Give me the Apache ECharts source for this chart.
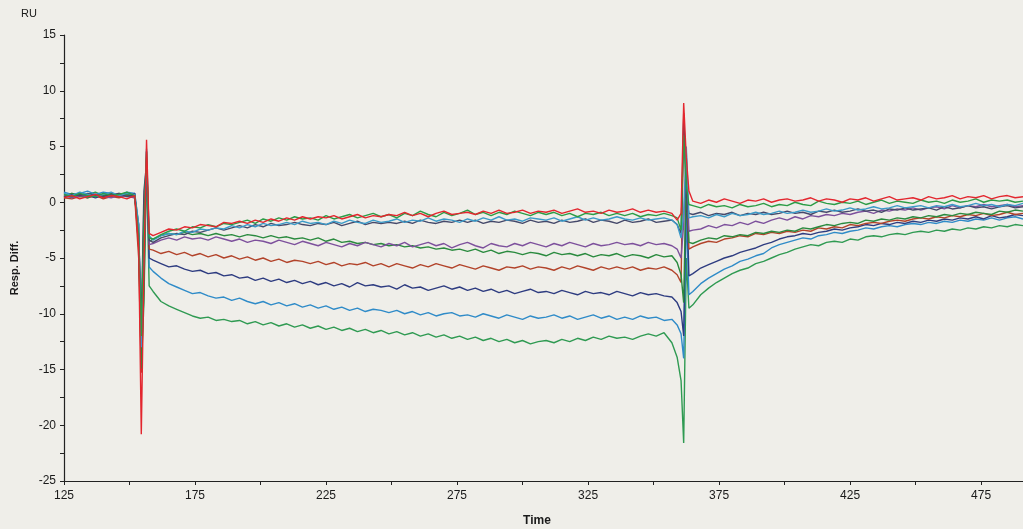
<!DOCTYPE html>
<html>
<head>
<meta charset="utf-8">
<script src="https://cdn.jsdelivr.net/npm/echarts@6/dist/echarts.min.js"></script>
<style>
  html, body { margin: 0; padding: 0; background: #efeee9; }
  #chart { width: 1023px; height: 529px; }
</style>
</head>
<body>
<div id="chart"></div>
<script>
// Sample times (s): baseline, injection spike, association, end-of-injection spike, dissociation
const time = [
  125,128,131,134,137,140,143,146,149,152,
  153.5,154.5,155.5,156.5,157.5,
  159,162,165,168,171,174,177,180,183,186,
  189,192,195,198,201,204,207,210,213,216,
  219,222,225,228,231,234,237,240,243,246,
  249,252,255,258,261,264,267,270,273,276,
  279,282,285,288,291,294,297,300,303,306,
  309,312,315,318,321,324,327,330,333,336,
  339,342,345,348,351,354,357,
  359,360.5,361.5,362.5,363.5,
  365,368,371,374,377,380,383,386,389,392,
  395,398,401,404,407,410,413,416,419,422,
  425,428,431,434,437,440,443,446,449,452,
  455,458,461,464,467,470,473,476,479,482,
  485,488,491
];

// Response difference (RU) for each curve, same order as `time`
const curveGreenLow = [
  0.6,0.8,0.5,0.7,0.9,0.6,0.5,0.8,0.7,0.5,
  -3,-15,-9,3.2,-7.5,
  -8.0,-8.9,-9.3,-9.6,-9.9,-10.2,-10.4,-10.3,-10.6,-10.5,
  -10.7,-10.6,-10.9,-10.7,-11.0,-10.8,-11.1,-10.9,-11.2,-11.0,
  -11.3,-11.1,-11.4,-11.2,-11.5,-11.3,-11.6,-11.4,-11.7,-11.5,
  -11.8,-11.6,-11.9,-11.7,-12.0,-11.8,-12.1,-11.9,-12.2,-12.0,
  -12.3,-12.1,-12.4,-12.2,-12.5,-12.3,-12.6,-12.4,-12.7,-12.5,
  -12.4,-12.6,-12.3,-12.5,-12.2,-12.4,-12.1,-12.3,-12.0,-12.2,
  -12.1,-12.3,-12.0,-11.8,-12.0,-11.7,-12.6,
  -13.9,-16.0,-21.6,-5.0,-9.5,
  -9.2,-8.3,-7.7,-7.2,-6.8,-6.4,-6.1,-5.9,-5.5,-5.3,
  -5.0,-4.7,-4.5,-4.2,-4.0,-3.8,-3.9,-3.6,-3.5,-3.6,
  -3.3,-3.4,-3.1,-3.0,-3.1,-2.9,-2.8,-2.9,-2.7,-2.6,
  -2.7,-2.5,-2.6,-2.4,-2.5,-2.3,-2.4,-2.2,-2.3,-2.1,
  -2.2,-2.0,-2.1
];
const curveBlue = [
  0.9,0.7,0.8,1.0,0.7,0.9,0.8,0.6,0.9,0.8,
  -2,-13,-6,3.8,-5.8,
  -6.2,-6.8,-7.3,-7.6,-7.9,-8.2,-8.1,-8.4,-8.6,-8.5,
  -8.8,-8.6,-8.9,-9.1,-8.9,-9.2,-9.0,-9.3,-9.1,-9.4,
  -9.2,-9.5,-9.3,-9.6,-9.4,-9.7,-9.5,-9.8,-9.6,-9.7,
  -9.9,-9.7,-10.0,-9.8,-10.1,-9.9,-10.2,-10.0,-9.9,-10.2,
  -10.1,-10.3,-10.0,-10.2,-10.4,-10.1,-10.3,-10.5,-10.2,-10.4,
  -10.3,-10.1,-10.4,-10.2,-10.5,-10.3,-10.1,-10.4,-10.2,-10.5,
  -10.3,-10.5,-10.2,-10.4,-10.3,-10.6,-10.5,
  -11.0,-11.8,-14.0,-1.0,-8.3,
  -8.0,-7.3,-6.8,-6.4,-6.0,-5.7,-5.3,-5.1,-4.8,-4.6,
  -4.1,-3.8,-3.6,-3.4,-3.2,-3.3,-3.0,-2.9,-2.7,-2.8,
  -2.6,-2.5,-2.3,-2.4,-2.2,-2.1,-2.2,-2.0,-1.9,-2.0,
  -1.8,-1.9,-1.7,-1.8,-1.6,-1.7,-1.5,-1.6,-1.4,-1.6,
  -1.4,-1.3,-1.5
];
const curveNavy = [
  0.6,0.5,0.7,0.6,0.4,0.6,0.7,0.5,0.6,0.8,
  -4,-12,-2,4.6,-5.0,
  -5.2,-5.5,-5.8,-5.7,-6.0,-6.2,-6.1,-6.4,-6.3,-6.6,
  -6.5,-6.8,-6.7,-7.0,-6.8,-7.1,-6.9,-7.2,-7.0,-7.3,
  -7.1,-7.4,-7.2,-7.5,-7.3,-7.6,-7.2,-7.5,-7.4,-7.6,
  -7.5,-7.8,-7.4,-7.7,-7.6,-7.9,-7.7,-7.5,-7.8,-7.6,
  -7.9,-7.7,-8.0,-7.8,-8.1,-7.9,-8.2,-8.0,-7.8,-8.1,
  -8.0,-8.2,-7.9,-8.1,-8.3,-8.0,-8.2,-8.1,-8.3,-8.0,
  -8.2,-8.4,-8.1,-8.3,-8.2,-8.4,-8.5,
  -9.0,-9.8,-12.0,2.0,-6.6,
  -6.4,-5.9,-5.6,-5.3,-5.0,-4.8,-4.5,-4.3,-4.1,-3.8,
  -3.6,-3.3,-3.1,-3.0,-2.8,-2.9,-2.7,-2.6,-2.4,-2.5,
  -2.3,-2.2,-2.0,-2.1,-1.9,-2.0,-1.8,-1.9,-1.7,-1.8,
  -1.6,-1.7,-1.5,-1.6,-1.4,-1.5,-1.3,-1.5,-1.2,-1.4,
  -1.3,-1.1,-1.2
];
const curveBrown = [
  0.4,0.3,0.5,0.4,0.6,0.3,0.5,0.4,0.6,0.4,
  -5,-15.3,-4,4.0,-4.2,
  -4.3,-4.6,-4.4,-4.7,-4.5,-4.8,-4.6,-4.9,-4.7,-5.0,
  -4.8,-5.1,-4.9,-5.2,-5.0,-5.3,-5.1,-5.4,-5.2,-5.3,
  -5.5,-5.3,-5.6,-5.4,-5.7,-5.5,-5.6,-5.4,-5.7,-5.5,
  -5.8,-5.5,-5.7,-5.9,-5.6,-5.8,-5.5,-5.7,-5.9,-5.6,
  -5.8,-6.0,-5.7,-5.9,-6.1,-5.8,-5.9,-5.7,-6.0,-5.8,
  -5.9,-6.1,-5.8,-6.0,-5.7,-5.9,-6.1,-5.8,-6.0,-5.8,
  -6.0,-5.8,-6.1,-5.9,-6.0,-5.8,-6.1,
  -6.5,-7.2,8.0,2.0,-4.2,
  -4.0,-3.7,-3.5,-3.6,-3.3,-3.2,-3.0,-3.1,-2.8,-2.9,
  -2.7,-2.8,-2.6,-2.7,-2.5,-2.6,-2.3,-2.4,-2.2,-2.3,
  -2.0,-2.1,-1.9,-1.8,-1.9,-1.7,-1.6,-1.7,-1.5,-1.4,
  -1.5,-1.3,-1.4,-1.2,-1.3,-1.1,-1.2,-1.0,-1.2,-1.1,
  -0.9,-1.1,-1.0
];
const curveGreenMid = [
  0.5,0.8,0.6,0.4,0.7,0.6,0.8,0.5,0.7,0.6,
  -3,-14.9,-8,3.8,-3.5,
  -3.3,-3.0,-2.8,-2.9,-2.7,-2.9,-2.8,-3.0,-2.8,-3.0,
  -2.9,-3.1,-2.9,-3.0,-3.2,-3.0,-3.2,-3.1,-3.3,-3.2,
  -3.4,-3.2,-3.5,-3.3,-3.6,-3.5,-3.7,-3.6,-3.8,-3.7,
  -3.9,-3.8,-4.0,-3.9,-4.1,-4.0,-4.2,-4.1,-4.3,-4.2,
  -4.4,-4.2,-4.5,-4.3,-4.6,-4.4,-4.5,-4.7,-4.5,-4.6,
  -4.8,-4.5,-4.7,-4.6,-4.8,-4.6,-4.9,-4.7,-4.8,-4.6,
  -4.9,-4.7,-4.8,-5.0,-4.7,-4.9,-4.8,
  -5.4,-6.5,-9.0,3.0,-3.6,
  -3.7,-3.4,-3.2,-3.3,-3.0,-3.1,-2.9,-3.0,-2.7,-2.8,
  -2.6,-2.7,-2.5,-2.6,-2.3,-2.4,-2.2,-2.0,-2.1,-1.9,
  -1.8,-1.9,-1.6,-1.7,-1.5,-1.6,-1.4,-1.5,-1.3,-1.4,
  -1.2,-1.3,-1.1,-1.2,-1.0,-1.1,-0.9,-1.0,-1.1,-0.8,
  -0.9,-0.7,-0.8
];
const curvePurple = [
  0.6,0.4,0.6,0.5,0.7,0.5,0.4,0.6,0.5,0.4,
  -2,-12,0,3.0,-3.8,
  -3.7,-3.4,-3.2,-3.4,-3.1,-3.3,-3.2,-3.4,-3.1,-3.3,
  -3.5,-3.3,-3.6,-3.4,-3.5,-3.7,-3.4,-3.6,-3.8,-3.5,
  -3.7,-3.9,-3.6,-3.8,-4.0,-3.7,-3.9,-3.6,-3.8,-4.0,
  -3.7,-3.9,-3.6,-4.0,-3.8,-3.6,-3.9,-3.7,-4.1,-3.8,
  -3.6,-3.9,-4.1,-3.7,-3.9,-4.0,-3.7,-3.9,-3.6,-3.8,
  -4.0,-3.7,-3.9,-3.6,-3.8,-4.0,-3.7,-3.9,-3.8,-3.6,
  -3.8,-3.7,-3.9,-3.6,-3.8,-3.7,-3.9,
  -4.2,-5.0,-2.0,4.5,-2.6,
  -2.5,-2.4,-2.1,-2.3,-2.0,-2.1,-1.8,-2.0,-1.7,-1.9,
  -1.6,-1.4,-1.6,-1.3,-1.5,-1.2,-1.3,-1.1,-1.2,-1.0,
  -1.1,-0.9,-0.8,-1.0,-0.7,-0.8,-0.6,-0.7,-0.5,-0.7,
  -0.5,-0.4,-0.6,-0.3,-0.5,-0.3,-0.4,-0.2,-0.4,-0.3,
  -0.2,-0.4,-0.3
];
const curveSlate = [
  0.5,0.7,0.6,0.8,0.6,0.5,0.7,0.8,0.5,0.7,
  -3,-11,1,3.5,-3.4,
  -3.6,-3.2,-3.0,-2.8,-2.9,-2.6,-2.7,-2.5,-2.3,-2.5,
  -2.3,-2.1,-2.3,-2.0,-2.2,-1.9,-2.1,-2.0,-1.8,-2.0,
  -2.1,-1.9,-2.0,-1.8,-2.1,-1.9,-1.7,-2.0,-1.8,-1.9,
  -1.8,-1.9,-1.7,-1.9,-1.6,-1.8,-1.9,-1.7,-1.8,-1.6,
  -1.8,-1.6,-1.9,-1.7,-1.8,-1.6,-1.7,-1.9,-1.6,-1.8,
  -1.7,-1.9,-1.6,-1.8,-1.7,-1.5,-1.8,-1.6,-1.7,-1.9,
  -1.6,-1.8,-1.7,-1.5,-1.8,-1.7,-1.6,
  -2.0,-2.8,7.5,0.5,-1.0,
  -1.1,-0.9,-1.2,-1.0,-1.1,-0.9,-1.2,-1.0,-1.1,-0.9,
  -1.1,-1.0,-0.8,-1.0,-0.9,-1.1,-0.8,-0.9,-0.7,-0.9,
  -0.8,-0.6,-0.8,-0.7,-0.9,-0.6,-0.7,-0.5,-0.7,-0.6,
  -0.5,-0.7,-0.4,-0.6,-0.5,-0.3,-0.5,-0.4,-0.6,-0.4,
  -0.3,-0.5,-0.4
];
const curveTeal = [
  0.8,0.6,0.9,0.7,0.5,0.7,0.9,0.6,0.8,0.7,
  -2,-13,-4,4.8,-3.0,
  -3.4,-3.0,-2.8,-2.9,-2.6,-2.7,-2.4,-2.5,-2.3,-2.4,
  -2.1,-2.3,-2.0,-2.2,-1.9,-2.1,-2.0,-1.8,-2.0,-1.7,
  -1.9,-1.8,-2.0,-1.7,-1.9,-1.6,-1.8,-1.9,-1.6,-1.8,
  -1.7,-1.5,-1.8,-1.6,-1.7,-1.4,-1.7,-1.5,-1.6,-1.8,
  -1.5,-1.7,-1.4,-1.6,-1.3,-1.6,-1.5,-1.7,-1.4,-1.5,
  -1.6,-1.4,-1.7,-1.5,-1.3,-1.6,-1.4,-1.6,-1.5,-1.3,
  -1.5,-1.6,-1.4,-1.6,-1.5,-1.4,-1.6,
  -2.0,-3.2,-1.0,5.0,-1.4,
  -1.3,-1.2,-1.4,-1.1,-1.3,-1.0,-1.2,-1.1,-0.9,-1.1,
  -1.0,-0.8,-1.0,-0.9,-0.7,-0.9,-0.8,-0.6,-0.8,-0.7,
  -0.5,-0.7,-0.6,-0.4,-0.6,-0.5,-0.3,-0.5,-0.4,-0.3,
  -0.5,-0.3,-0.4,-0.2,-0.4,-0.3,-0.1,-0.3,-0.2,-0.4,
  -0.2,-0.3,-0.1
];
const curveGreenTop = [
  0.7,0.5,0.8,0.6,0.5,0.8,0.6,0.7,0.9,0.6,
  -3,-12,-2,4.5,-3.2,
  -3.3,-2.9,-2.6,-2.4,-2.6,-2.2,-2.3,-2.0,-2.2,-1.9,
  -2.0,-1.8,-1.6,-1.9,-1.5,-1.7,-1.4,-1.6,-1.3,-1.5,
  -1.4,-1.6,-1.2,-1.5,-1.3,-1.1,-1.4,-1.2,-1.0,-1.3,
  -1.1,-1.4,-1.0,-1.2,-0.8,-1.1,-1.3,-0.9,-1.2,-1.0,
  -0.7,-1.1,-0.9,-1.2,-0.9,-1.1,-0.8,-1.0,-1.2,-0.9,
  -1.1,-0.9,-1.2,-1.0,-1.3,-1.0,-1.1,-0.9,-1.2,-1.0,
  -1.2,-1.0,-1.3,-1.1,-1.2,-1.0,-1.2,
  -1.4,-2.5,6.0,1.5,-0.2,
  -0.3,-0.5,-0.2,-0.4,-0.3,-0.5,-0.2,-0.4,-0.3,-0.1,
  -0.4,-0.2,-0.3,0.0,-0.2,-0.3,0.1,-0.1,-0.2,0.0,
  -0.1,0.1,-0.2,0.0,0.2,-0.1,0.1,0.0,-0.1,0.2,
  0.0,0.1,-0.1,0.2,0.0,0.1,0.3,0.0,0.2,0.1,
  0.2,0.0,0.1
];
const curveRed = [
  0.4,0.6,0.3,0.5,0.7,0.4,0.6,0.5,0.3,0.6,
  -4,-20.8,-6,5.6,-2.8,
  -3.0,-2.7,-2.4,-2.5,-2.2,-2.3,-2.0,-2.1,-2.2,-1.8,
  -1.9,-1.7,-1.9,-1.6,-1.8,-1.5,-1.7,-1.4,-1.6,-1.3,
  -1.5,-1.3,-1.4,-1.2,-1.5,-1.3,-1.1,-1.4,-1.2,-1.3,
  -1.1,-1.2,-0.9,-1.2,-1.0,-1.3,-1.0,-0.8,-1.1,-1.0,
  -0.9,-1.1,-0.8,-1.0,-0.7,-1.0,-0.9,-0.7,-1.0,-0.8,
  -0.9,-0.7,-1.0,-0.8,-0.6,-0.9,-0.8,-1.0,-0.7,-0.9,
  -0.8,-0.6,-0.9,-0.7,-0.9,-0.8,-1.0,
  -1.6,-1.0,8.9,4.0,1.0,
  0.1,-0.1,0.2,0.0,0.3,0.1,-0.1,0.2,0.1,0.3,
  0.0,0.2,0.3,0.1,0.2,0.4,0.1,0.3,0.2,0.0,
  0.3,0.2,0.4,0.1,0.3,0.5,0.2,0.3,0.4,0.2,
  0.5,0.3,0.4,0.6,0.3,0.5,0.4,0.6,0.3,0.5,
  0.6,0.4,0.5
];

// Curves in drawing order (lowest response first so the upper traces sit on top)
const curves = [
  { values: curveGreenLow, color: '#2f9a52' },
  { values: curveBlue,     color: '#2f8bc8' },
  { values: curveNavy,     color: '#2e3c80' },
  { values: curveBrown,    color: '#b2432a' },
  { values: curveGreenMid, color: '#2a8a3e' },
  { values: curvePurple,   color: '#7d509c' },
  { values: curveSlate,    color: '#45496a' },
  { values: curveTeal,     color: '#3b9ac8' },
  { values: curveGreenTop, color: '#2c9c46' },
  { values: curveRed,      color: '#e3262e' }
];

const xTickStep = 25;   // tick every 25 s, label every 50 s starting at 125
const yTickStep = 2.5;  // tick every 2.5 RU, label every 5 RU

const chart = echarts.init(document.getElementById('chart'), null, { renderer: 'canvas' });

const labelFont = { color: '#1a1a1a', fontSize: 12, fontFamily: 'Liberation Sans, Arial, sans-serif' };

chart.setOption({
  backgroundColor: '#efeee9',
  animation: false,
  grid: { left: 64, right: 0, top: 35, bottom: 48, containLabel: false },
  xAxis: {
    type: 'value',
    min: 125,
    max: 491,
    interval: xTickStep,
    axisLine: { show: true, onZero: false, lineStyle: { color: '#222', width: 1.2 } },
    axisTick: { show: true, length: 4, lineStyle: { color: '#222' } },
    splitLine: { show: false },
    axisLabel: Object.assign({
      margin: 9,
      showMaxLabel: false,
      formatter: v => ((v - 125) % 50 === 0 ? String(v) : '')
    }, labelFont)
  },
  yAxis: {
    type: 'value',
    min: -25,
    max: 15,
    interval: yTickStep,
    axisLine: { show: true, onZero: false, lineStyle: { color: '#222', width: 1.2 } },
    axisTick: { show: true, length: 4, lineStyle: { color: '#222' } },
    splitLine: { show: false },
    axisLabel: Object.assign({
      margin: 8,
      formatter: v => (v % 5 === 0 ? String(v) : '')
    }, labelFont)
  },
  graphic: [
    { type: 'text', x: 21, y: 14, style: { text: 'RU', font: '11px Liberation Sans, Arial, sans-serif', fill: '#1a1a1a', align: 'left', verticalAlign: 'middle' } },
    { type: 'text', x: 15, y: 268, rotation: Math.PI / 2, style: { text: 'Resp. Diff.', font: 'bold 11px Liberation Sans, Arial, sans-serif', fill: '#1a1a1a', align: 'center', verticalAlign: 'middle' } },
    { type: 'text', x: 537, y: 521, style: { text: 'Time', font: 'bold 12px Liberation Sans, Arial, sans-serif', fill: '#1a1a1a', align: 'center', verticalAlign: 'middle' } }
  ],
  series: curves.map(c => ({
    type: 'line',
    data: time.map((t, i) => [t, c.values[i]]),
    showSymbol: false,
    symbol: 'none',
    smooth: false,
    clip: true,
    lineStyle: { color: c.color, width: 1.4 },
    itemStyle: { color: c.color },
    emphasis: { disabled: true }
  }))
});
</script>
</body>
</html>
